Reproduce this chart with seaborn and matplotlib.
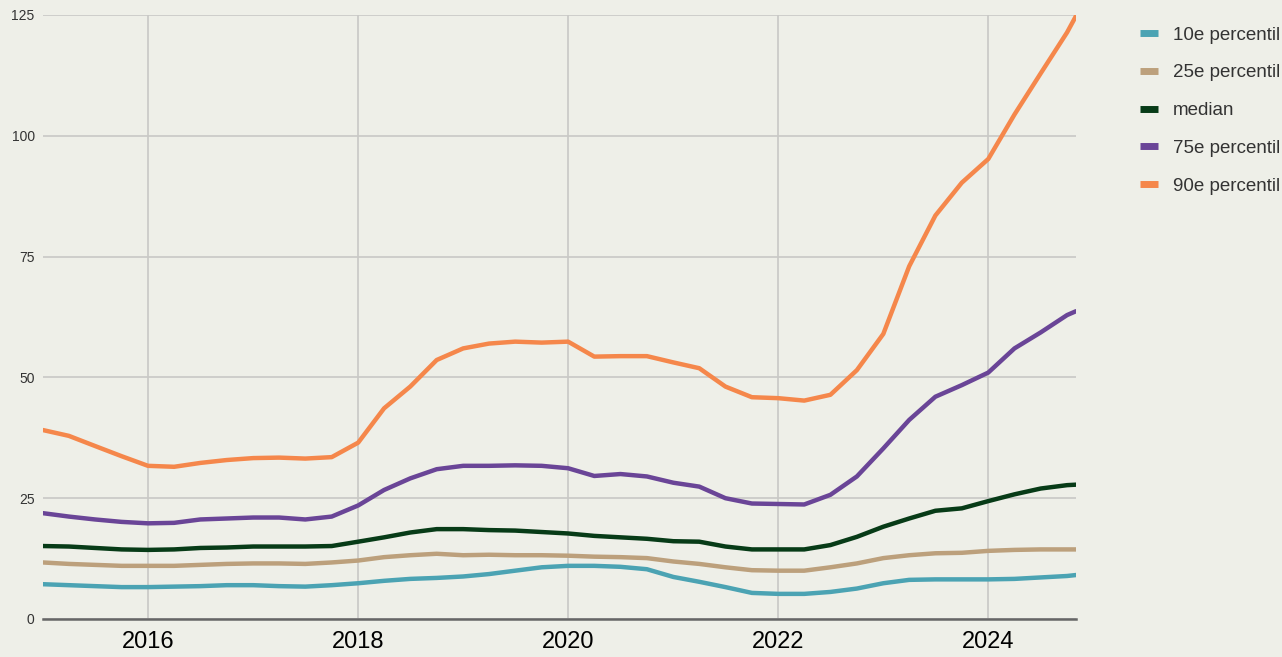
# -*- coding: utf-8 -*-
"""
Percentile lines 2015-2024, quarterly values read off the reference chart.
"""
# Third Party
import pandas as pd
import seaborn as sns
from matplotlib import pyplot as plt

# ## DATA ## #
dates = list(pd.date_range("2015-01-01", "2024-10-01", freq="QS")) + [pd.Timestamp("2024-11-01")]

p10 = [7.2, 7.0, 6.8, 6.6,
       6.6, 6.7, 6.8, 7.0,
       7.0, 6.8, 6.7, 7.0,
       7.4, 7.9, 8.3, 8.5,
       8.8, 9.3, 10.0, 10.7,
       11.0, 11.0, 10.8, 10.3,
       8.7, 7.7, 6.6, 5.4,
       5.2, 5.2, 5.6, 6.3,
       7.4, 8.1, 8.2, 8.2,
       8.2, 8.3, 8.6, 8.9, 9.1]
p25 = [11.7, 11.4, 11.2, 11.0,
       11.0, 11.0, 11.2, 11.4,
       11.5, 11.5, 11.4, 11.7,
       12.1, 12.8, 13.2, 13.5,
       13.2, 13.3, 13.2, 13.2,
       13.1, 12.9, 12.8, 12.6,
       11.9, 11.4, 10.7, 10.1,
       10.0, 10.0, 10.7, 11.5,
       12.6, 13.2, 13.6, 13.7,
       14.1, 14.3, 14.4, 14.4, 14.4]
median = [15.1, 15.0, 14.7, 14.4,
          14.3, 14.4, 14.7, 14.8,
          15.0, 15.0, 15.0, 15.1,
          16.0, 16.9, 17.9, 18.6,
          18.6, 18.4, 18.3, 18.0,
          17.7, 17.2, 16.9, 16.6,
          16.1, 16.0, 15.0, 14.4,
          14.4, 14.4, 15.3, 17.0,
          19.1, 20.8, 22.4, 22.9,
          24.4, 25.8, 27.0, 27.7, 27.8]
p75 = [21.9, 21.2, 20.6, 20.1,
       19.8, 19.9, 20.6, 20.8,
       21.0, 21.0, 20.6, 21.2,
       23.5, 26.7, 29.1, 31.0,
       31.7, 31.7, 31.8, 31.7,
       31.2, 29.6, 30.0, 29.5,
       28.2, 27.4, 25.0, 23.9,
       23.8, 23.7, 25.7, 29.5,
       35.3, 41.2, 46.0, 48.4,
       51.0, 56.0, 59.3, 62.9, 63.7]
p90 = [39.1, 37.9, 35.8, 33.7,
       31.7, 31.5, 32.3, 32.9,
       33.3, 33.4, 33.2, 33.5,
       36.5, 43.6, 48.1, 53.6,
       56.0, 57.0, 57.4, 57.2,
       57.4, 54.3, 54.4, 54.4,
       53.1, 51.9, 48.1, 45.9,
       45.7, 45.2, 46.4, 51.5,
       59.0, 73.0, 83.5, 90.3,
       95.2, 104.4, 112.9, 121.4, 124.8]

series_names = ["10e percentil", "25e percentil", "median", "75e percentil", "90e percentil"]
series_values = [p10, p25, median, p75, p90]
series_colors = ["#4ba3b3", "#bca07c", "#073b17", "#6a4597", "#f5874b"]

x_ticks = ["2016", "2018", "2020", "2022", "2024"]
y_ticks = [0, 25, 50, 75, 100, 125]

# Build a long table for seaborn
frames = []
for name, values in zip(series_names, series_values):
    frames.append(pd.DataFrame({"date": dates, "value": values, "series": name}))
df = pd.concat(frames, ignore_index=True)

# ## STYLE ## #
bg = "#eeefe8"
sns.set_theme(style="white", rc={"axes.facecolor": bg, "figure.facecolor": bg})
plt.rcParams["font.family"] = ["Liberation Sans", "DejaVu Sans"]

fig = plt.figure(figsize=(12.82, 6.57), dpi=100)
ax = fig.add_axes([43 / 1282, 38 / 657, (1076 - 43) / 1282, (619 - 15) / 657])

sns.lineplot(data=df, x="date", y="value", hue="series",
             palette=dict(zip(series_names, series_colors)),
             linewidth=3.2, ax=ax, legend=False)
for line in ax.lines:
    line.set_solid_joinstyle("round")
    line.set_solid_capstyle("round")

# Axes limits / ticks
ax.set_xlim(pd.Timestamp("2015-01-01"), pd.Timestamp("2024-11-01"))
ax.set_ylim(0, 125)
ax.set_xticks([pd.Timestamp(f"{y}-01-01") for y in x_ticks])
ax.set_xticklabels(x_ticks, fontsize=17, color="black")
ax.set_yticks(y_ticks)
ax.set_yticklabels([str(v) for v in y_ticks], fontsize=10, color="#333333")
ax.tick_params(axis="both", length=0)
ax.tick_params(axis="x", pad=9)
ax.tick_params(axis="y", pad=6)
ax.set_xlabel("")
ax.set_ylabel("")

# Grid
ax.grid(True, color="#c8c8c6", linewidth=1.2)
ax.set_axisbelow(True)
for side in ["top", "right", "left"]:
    ax.spines[side].set_visible(False)
ax.spines["bottom"].set_color("#666666")
ax.spines["bottom"].set_linewidth(1.8)

# Legend
handles = [plt.Line2D([], [], color=c, linewidth=5, solid_capstyle="butt") for c in series_colors]
fig.legend(handles, series_names, loc="upper left", bbox_to_anchor=(1132 / 1282, 1 - 19 / 657),
           frameon=False, fontsize=13.5, labelcolor="#333333", handlelength=1.0,
           handletextpad=0.8, labelspacing=1.1, borderaxespad=0)

fig.savefig("out.png", dpi=100, facecolor=bg)
